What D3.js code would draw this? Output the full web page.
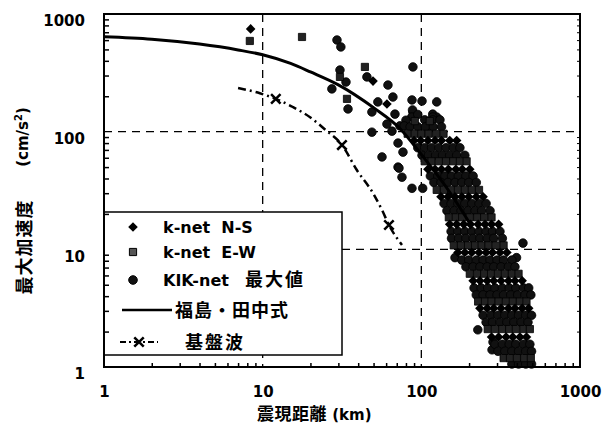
<!DOCTYPE html>
<html>
<head>
<meta charset="utf-8">
<script src="https://cdn.jsdelivr.net/npm/d3@7"></script>
<style>
body{margin:0;background:#fff}
svg{display:block}
text{font-family:"DejaVu Sans","Noto Sans CJK JP",sans-serif;font-weight:bold;fill:#000}
.jp{font-family:"Noto Sans CJK JP",sans-serif}
</style>
</head>
<body>
<div id="chart"></div>
<script>
// epicentral distance (km) vs peak acceleration (cm/s2)
const xTicks=[1,10,100,1000]
const yTicks=[1,10,100,1000]
const gridX=[10,100]
const gridY=[10,100]

// scattered single points [km, gal]
const nsPoints=[[8.4,747],[49.6,269],[60.7,172]]
const ewPoints=[[8.3,590],[17.7,638],[30.7,292],[44.1,355],[34,190],[91,123],[113,123]]
const kikPoints=[[29.4,601],[31.1,525],[30.7,334],[33.5,264],[27.3,231],[45.4,292],[61.6,249],[88.5,355],
[34.5,156],[53.2,179],[66.2,197],[48.8,147],[68.2,141],[87.3,186],[101,182],[88.5,147],[60.7,116],
[65.3,101],[73.3,112],[48.8,99],[118,141],[56.5,61],[71.3,50],[75.5,41],[71.3,80],[76.6,67],[72.3,49],
[87.3,33],[102,33],[125,133],[437,11.3],[398,8.5],[163,8.5],[279,1.4],[227,2.07],[283,1.63],
[125,179],[88,153],[87,133],[118,133],[110,110],[95,140],[80,125],[78,112]]

// dense band, one row per acceleration level: [gal, [km...]]
const nsRows=[
[84,[90,99,110,122,134,151,167]],
[48,[110,122,134,148,165,181,202]],
[28,[133,147,163,180,199,222,245]],
[16.3,[151,167,185,204,228,252,277,307]],
[9.4,[170,188,208,231,256,281,313,346]],
[5.4,[212,234,260,286,318,354,389,432]],
[3.15,[234,260,286,318,354,389,432,475]],
[1.8,[277,307,342,377,418,460]]
]
const ewRows=[
[96,[82,91,100,111,124,138]],
[56,[105,116,129,143,159,175,193]],
[32,[125,139,154,170,188,208,231]],
[18.7,[149,165,181,202,225,249,277]],
[10.8,[160,178,197,218,240,265,295,330]],
[6.2,[202,225,249,275,304,336,372,410]],
[3.6,[228,252,277,307,342,377,418,460]],
[2.1,[262,291,324,358,394,440,483]],
[1.19,[330,362,400,445,490]]
]
const kikRows=[
[126,[105,118,131]],
[110,[85,95,106,119,134]],
[73,[95,105,116,129,143,159,175]],
[63,[101,111,123,136,151,167,188]],
[42,[114,127,141,155,171,191,212]],
[37,[120,133,147,163,180,199,222]],
[24.5,[139,154,170,188,208,231,256]],
[21.3,[145,161,178,197,218,240,271]],
[14.2,[154,170,188,208,231,256,281,313]],
[12.4,[155,172,191,212,234,260,286,324]],
[8.1,[180,199,222,245,271,300,330,372]],
[7.1,[191,212,234,260,286,318,354,389]],
[4.7,[215,238,262,291,324,358,394,440,475]],
[4.1,[222,245,271,300,330,366,405,450,490]],
[2.75,[245,275,304,336,372,410,455,495]],
[2.4,[256,281,313,346,383,425,470]],
[1.56,[291,324,358,394,440,483]],
[1.36,[304,336,372,410,455,495]],
[1.06,[372,410,455,495]]
]

// 福島・田中式
const fukushimaCurve=[[1,640],[2,610],[4,555],[7,495],[10,450],[15,380],[20,322],[30,250],[50,160],[73,107],[100,64],[150,31],[200,17]]
// 基盤波
const bedrockCurve=[[7,235],[9.6,212],[12.1,190],[15.5,162],[20,132],[25,103],[31.6,77],[39.3,47],[49.6,30],[56.5,21.6],[62.5,16.1],[75.5,10.9]]
const bedrockMarks=[[12.1,190],[31.6,77],[62.5,16.1]]

const width=610
const height=437

const x=d3.scaleLog().domain([1,1000]).range([104,580])
const y=d3.scaleLog().domain([1,1000]).range([367,14])

const [plotLeft,plotRight]=x.range()
const [plotBottom,plotTop]=y.range()

const minor=[]
yTicks.slice(0,3).forEach(d=>{for(let i=2;i<10;i++)minor.push(d*i)})

function expand(rows){
return rows.flatMap(r=>r[1].map(k=>[k,r[0]]))
}

const nsData=nsPoints.concat(expand(nsRows))
const ewData=ewPoints.concat(expand(ewRows))
const kikData=kikPoints.concat(expand(kikRows))

const svg=d3.select("#chart")
.append("svg")
.attr("width",width)
.attr("height",height)

// dashed grid
const grid=svg.append("g")
.attr("stroke","#000")
.attr("stroke-width",1.3)
.attr("stroke-dasharray","8,6")

grid.selectAll(".gx")
.data(gridX)
.enter()
.append("line")
.attr("x1",d=>x(d))
.attr("x2",d=>x(d))
.attr("y1",plotTop)
.attr("y2",plotBottom)

grid.selectAll(".gy")
.data(gridY)
.enter()
.append("line")
.attr("x1",plotLeft)
.attr("x2",plotRight)
.attr("y1",d=>y(d))
.attr("y2",d=>y(d))

// markers
const circleSym=d3.symbol().type(d3.symbolCircle).size(58)
const squareSym=d3.symbol().type(d3.symbolSquare).size(52)
const diamondSym=d3.symbol().type(d3.symbolSquare).size(46)

svg.append("g")
.selectAll("path")
.data(kikData)
.enter()
.append("path")
.attr("d",circleSym)
.attr("transform",d=>`translate(${x(d[0])},${y(d[1])})`)
.attr("fill","#111")
.attr("stroke","#000")
.attr("stroke-width",0.8)

svg.append("g")
.selectAll("path")
.data(ewData)
.enter()
.append("path")
.attr("d",squareSym)
.attr("transform",d=>`translate(${x(d[0])},${y(d[1])})`)
.attr("fill","#222")
.attr("stroke","#000")
.attr("stroke-width",0.8)

svg.append("g")
.selectAll("path")
.data(nsData)
.enter()
.append("path")
.attr("d",diamondSym)
.attr("transform",d=>`translate(${x(d[0])},${y(d[1])}) rotate(45)`)
.attr("fill","#000")

// curves
const line=d3.line()
.x(d=>x(d[0]))
.y(d=>y(d[1]))
.curve(d3.curveMonotoneX)

svg.append("path")
.datum(fukushimaCurve)
.attr("d",line)
.attr("fill","none")
.attr("stroke","#000")
.attr("stroke-width",3)

svg.append("path")
.datum(bedrockCurve)
.attr("d",line)
.attr("fill","none")
.attr("stroke","#000")
.attr("stroke-width",2.5)
.attr("stroke-dasharray","8,4,2,4")

const xSym=d3.symbol().type(d3.symbolX).size(60)

svg.append("g")
.selectAll("path")
.data(bedrockMarks)
.enter()
.append("path")
.attr("d",xSym)
.attr("transform",d=>`translate(${x(d[0])},${y(d[1])})`)
.attr("fill","none")
.attr("stroke","#000")
.attr("stroke-width",2.5)

// legend
const legend=svg.append("g")

legend.append("rect")
.attr("x",plotLeft)
.attr("y",212)
.attr("width",238)
.attr("height",143)
.attr("fill","#fff")
.attr("stroke","#000")
.attr("stroke-width",1.5)

legend.append("path")
.attr("d",diamondSym)
.attr("transform","translate(133,227) rotate(45)")
.attr("fill","#000")

legend.append("path")
.attr("d",squareSym)
.attr("transform","translate(133,252)")
.attr("fill","#555")
.attr("stroke","#000")

legend.append("path")
.attr("d",circleSym)
.attr("transform","translate(133,280)")
.attr("fill","#111")
.attr("stroke","#000")

legend.append("line")
.attr("x1",122).attr("x2",172)
.attr("y1",310).attr("y2",310)
.attr("stroke","#000")
.attr("stroke-width",2.5)

legend.append("line")
.attr("x1",120).attr("x2",158)
.attr("y1",342).attr("y2",342)
.attr("stroke","#000")
.attr("stroke-width",2)
.attr("stroke-dasharray","6,3,2,3")

legend.append("path")
.attr("d",xSym)
.attr("transform","translate(139,342)")
.attr("fill","#fff")
.attr("stroke","#000")
.attr("stroke-width",2.5)

const legendText=[
{label:"k-net  N-S",y:233},
{label:"k-net  E-W",y:258}
]

legend.selectAll(".lt")
.data(legendText)
.enter()
.append("text")
.attr("x",163)
.attr("y",d=>d.y)
.style("font-size","16px")
.style("white-space","pre")
.text(d=>d.label)

const kikLabel=legend.append("text")
.attr("x",163)
.attr("y",286)
.style("font-size","16px")
kikLabel.append("tspan").text("KIK-net")
kikLabel.append("tspan")
.attr("class","jp")
.attr("x",245)
.style("font-size","18px")
.style("letter-spacing","2px")
.text("最大値")

legend.append("text")
.attr("class","jp")
.attr("x",175)
.attr("y",317)
.style("font-size","18px")
.style("letter-spacing","1px")
.text("福島・田中式")

legend.append("text")
.attr("class","jp")
.attr("x",185)
.attr("y",349)
.style("font-size","18px")
.style("letter-spacing","2px")
.text("基盤波")

// minor ticks, pointing inward
svg.append("g")
.attr("transform",`translate(${plotLeft},0)`)
.call(d3.axisLeft(y).tickValues(minor).tickSizeInner(-5).tickSizeOuter(0).tickFormat(""))
.call(g=>g.select(".domain").remove())
.call(g=>g.selectAll("line").attr("stroke-width",1.5))

svg.append("g")
.attr("transform",`translate(${plotRight},0)`)
.call(d3.axisRight(y).tickValues(minor).tickSizeInner(-3).tickSizeOuter(0).tickFormat(""))
.call(g=>g.select(".domain").remove())

svg.append("g")
.attr("transform",`translate(0,${plotBottom})`)
.call(d3.axisBottom(x).tickValues(minor).tickSizeInner(-4).tickSizeOuter(0).tickFormat(""))
.call(g=>g.select(".domain").remove())
.call(g=>g.selectAll("line").attr("stroke-width",1.5))

// tick labels
svg.append("g")
.attr("transform",`translate(${plotLeft},0)`)
.call(d3.axisLeft(y).tickValues(yTicks).tickSize(0).tickPadding(19).tickFormat(d3.format("d")))
.call(g=>g.select(".domain").remove())
.call(g=>g.selectAll("text").attr("y",7).style("font-size","15px"))

svg.append("g")
.attr("transform",`translate(0,${plotBottom})`)
.call(d3.axisBottom(x).tickValues(xTicks).tickSize(0).tickPadding(19).tickFormat(d3.format("d")))
.call(g=>g.select(".domain").remove())
.call(g=>g.selectAll("text").style("font-size","15px"))

// frame
svg.append("rect")
.attr("x",plotLeft)
.attr("y",plotTop)
.attr("width",plotRight-plotLeft)
.attr("height",plotBottom-plotTop)
.attr("fill","none")
.attr("stroke","#000")
.attr("stroke-width",2)

// axis titles
const xTitle=svg.append("text")
.attr("x",257)
.attr("y",420)
xTitle.append("tspan")
.attr("class","jp")
.style("font-size","17px")
.style("letter-spacing","0.5px")
.text("震現距離")
xTitle.append("tspan")
.style("font-size","15px")
.style("white-space","pre")
.text(" (km)")

svg.append("text")
.attr("class","jp")
.attr("transform","translate(31,247) rotate(-90)")
.attr("text-anchor","middle")
.style("font-size","18px")
.style("letter-spacing","1px")
.text("最大加速度")

const yUnit=svg.append("text")
.attr("transform","translate(28,137) rotate(-90)")
.attr("text-anchor","middle")
.style("font-size","15px")
yUnit.append("tspan").text("(cm/s")
yUnit.append("tspan").attr("dy",-6).style("font-size","10px").text("2")
yUnit.append("tspan").attr("dy",6).text(")")
</script>
</body>
</html>
